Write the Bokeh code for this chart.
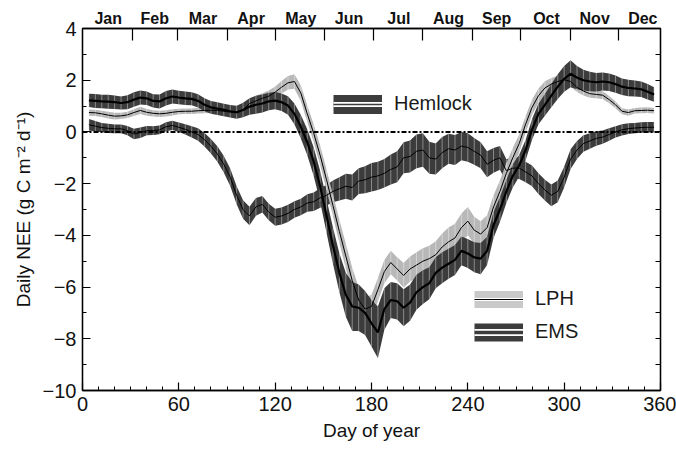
from bokeh.plotting import figure
from bokeh.models import Range1d, LinearAxis, FixedTicker, Span, Legend, LegendItem, ColumnDataSource
from bokeh.embed import file_html
from bokeh.resources import INLINE

# ---------------- data ----------------
DAY = list(range(4, 357, 4))  # 89 sample days

EMS_MEAN = [1.22, 1.20, 1.18, 1.17, 1.15, 1.12, 1.15, 1.25, 1.33, 1.30,
            1.20, 1.18, 1.30, 1.37, 1.33, 1.30, 1.28, 1.20, 1.05, 0.95,
            0.90, 0.85, 0.80, 0.76, 0.85, 0.98, 1.05, 1.10, 1.18, 1.21,
            1.15, 1.02, 0.70, 0.20, -0.40, -1.15, -2.10, -3.25, -4.40, -5.45,
            -6.30, -6.75, -6.80, -7.00, -7.40, -7.75, -6.85, -6.50, -6.55, -6.80,
            -6.60, -6.20, -6.00, -5.85, -5.45, -5.25, -5.10, -4.95, -4.60, -4.70,
            -4.85, -4.90, -4.60, -3.60, -3.00, -2.30, -1.70, -1.30, -0.70, 0.10,
            0.70, 1.05, 1.40, 1.75, 2.05, 2.25, 2.10, 2.00, 1.95, 1.92,
            1.95, 1.92, 1.85, 1.75, 1.70, 1.68, 1.65, 1.55, 1.45]
EMS_ERR = [0.26, 0.27, 0.26, 0.27, 0.26, 0.25, 0.27, 0.28, 0.27, 0.26,
           0.26, 0.27, 0.28, 0.27, 0.26, 0.26, 0.25, 0.26, 0.25, 0.25,
           0.25, 0.24, 0.24, 0.25, 0.28, 0.32, 0.35, 0.35, 0.34, 0.33,
           0.34, 0.36, 0.40, 0.45, 0.50, 0.55, 0.60, 0.65, 0.70, 0.75,
           0.85, 0.95, 0.90, 0.85, 0.90, 1.00, 0.80, 0.70, 0.70, 0.72,
           0.70, 0.68, 0.65, 0.62, 0.60, 0.60, 0.58, 0.58, 0.56, 0.56,
           0.58, 0.60, 0.55, 0.50, 0.48, 0.45, 0.45, 0.42, 0.40, 0.40,
           0.40, 0.42, 0.45, 0.48, 0.50, 0.52, 0.45, 0.40, 0.38, 0.36,
           0.35, 0.34, 0.33, 0.32, 0.32, 0.31, 0.30, 0.30, 0.28]

LPH_MEAN = [0.75, 0.74, 0.70, 0.65, 0.61, 0.62, 0.66, 0.75, 0.83, 0.76,
            0.72, 0.70, 0.72, 0.76, 0.79, 0.80, 0.80, 0.82, 0.83, 0.84,
            0.83, 0.80, 0.77, 0.74, 0.85, 1.10, 1.20, 1.30, 1.38, 1.54,
            1.73, 1.90, 1.95, 1.50, 0.70, -0.05, -0.90, -1.85, -2.85, -3.85,
            -4.80, -5.75, -6.50, -6.85, -6.75, -6.10, -5.40, -5.05, -5.30, -5.55,
            -5.30, -5.15, -5.00, -4.90, -4.75, -4.45, -4.25, -4.10, -3.70, -3.45,
            -3.80, -3.95, -3.70, -2.90, -2.30, -1.60, -1.00, -0.45, 0.30, 0.95,
            1.40, 1.70, 1.85, 1.95, 2.02, 1.95, 1.72, 1.58, 1.48, 1.45,
            1.42, 1.25, 1.05, 0.80, 0.75, 0.82, 0.83, 0.84, 0.82]
LPH_ERR = [0.12, 0.12, 0.12, 0.13, 0.13, 0.12, 0.12, 0.13, 0.14, 0.13,
           0.12, 0.12, 0.12, 0.12, 0.11, 0.11, 0.11, 0.11, 0.11, 0.11,
           0.11, 0.11, 0.11, 0.11, 0.15, 0.18, 0.20, 0.20, 0.22, 0.22,
           0.24, 0.26, 0.28, 0.30, 0.32, 0.35, 0.38, 0.40, 0.42, 0.45,
           0.48, 0.50, 0.50, 0.45, 0.45, 0.45, 0.45, 0.45, 0.45, 0.48,
           0.48, 0.50, 0.50, 0.50, 0.52, 0.52, 0.55, 0.55, 0.55, 0.55,
           0.52, 0.50, 0.48, 0.45, 0.42, 0.40, 0.38, 0.35, 0.32, 0.30,
           0.28, 0.26, 0.24, 0.22, 0.20, 0.20, 0.18, 0.17, 0.16, 0.15,
           0.15, 0.14, 0.13, 0.12, 0.12, 0.11, 0.11, 0.11, 0.11]

HEM_MEAN = [0.28, 0.22, 0.17, 0.14, 0.12, 0.12, 0.05, -0.08, -0.03, 0.05,
            0.05, 0.08, 0.20, 0.25, 0.18, 0.10, 0.00, -0.10, -0.30, -0.55,
            -0.85, -1.25, -1.75, -2.45, -3.00, -3.25, -2.90, -2.80, -3.10, -3.30,
            -3.25, -3.15, -3.00, -2.90, -2.75, -2.70, -2.55, -2.45, -2.30, -2.20,
            -2.10, -2.15, -1.90, -1.85, -1.75, -1.70, -1.60, -1.45, -1.35, -1.00,
            -0.95, -0.75, -0.70, -1.00, -1.05, -0.80, -0.65, -0.70, -0.55, -0.60,
            -0.75, -0.90, -1.25, -1.10, -1.00, -1.50, -1.40, -1.40, -1.55, -1.70,
            -2.00, -2.25, -2.45, -2.30, -1.75, -1.05, -0.70, -0.45, -0.35, -0.25,
            -0.20, -0.10, 0.00, 0.08, 0.13, 0.15, 0.17, 0.18, 0.18]
HEM_ERR = [0.22, 0.20, 0.18, 0.18, 0.17, 0.17, 0.18, 0.20, 0.20, 0.18,
           0.17, 0.17, 0.17, 0.18, 0.18, 0.20, 0.22, 0.24, 0.26, 0.28,
           0.30, 0.32, 0.34, 0.35, 0.36, 0.36, 0.34, 0.32, 0.32, 0.33,
           0.33, 0.33, 0.32, 0.32, 0.34, 0.36, 0.38, 0.40, 0.42, 0.45,
           0.48, 0.50, 0.50, 0.52, 0.55, 0.55, 0.55, 0.58, 0.60, 0.60,
           0.62, 0.65, 0.65, 0.62, 0.60, 0.60, 0.58, 0.58, 0.55, 0.55,
           0.52, 0.50, 0.50, 0.48, 0.46, 0.44, 0.42, 0.42, 0.40, 0.40,
           0.40, 0.40, 0.42, 0.42, 0.40, 0.38, 0.35, 0.32, 0.30, 0.28,
           0.26, 0.24, 0.22, 0.22, 0.21, 0.20, 0.20, 0.20, 0.20]

MONTHS = ["Jan", "Feb", "Mar", "Apr", "May", "Jun", "Jul", "Aug", "Sep", "Oct", "Nov", "Dec"]
MONTH_MID = [16, 45, 75, 105, 136, 166, 197, 228, 258, 289, 319, 349]
MONTH_EDGE = [31, 59, 90, 120, 151, 181, 212, 243, 273, 304, 334]
X_TICKS = [0, 60, 120, 180, 240, 300, 360]
Y_TICKS = [-10, -8, -6, -4, -2, 0, 2, 4]

# ---------------- styling ----------------
FONT = "Liberation Sans"
DARK = "#3c3c3c"
LIGHT = "#b8b8b8"

p = figure(width=676, height=452, x_range=Range1d(0, 360), y_range=Range1d(-10, 4),
           output_backend="svg", toolbar_location=None,
           min_border_left=82, min_border_right=16, min_border_top=28, min_border_bottom=62)
p.xgrid.visible = False
p.ygrid.visible = False
p.outline_line_color = "black"
p.outline_line_width = 1.3
p.background_fill_color = "white"
p.border_fill_color = "white"


def band(mean, err, color):
    lo = [m - e for m, e in zip(mean, err)]
    hi = [m + e for m, e in zip(mean, err)]
    src = ColumnDataSource(dict(x=DAY, lo=lo, hi=hi))
    p.varea(x="x", y1="lo", y2="hi", source=src, fill_color=color)
    p.segment(x0="x", y0="lo", x1="x", y1="hi", source=src,
              line_color="white", line_width=0.8, line_alpha=0.5)


band(HEM_MEAN, HEM_ERR, DARK)
band(LPH_MEAN, LPH_ERR, LIGHT)
band(EMS_MEAN, EMS_ERR, DARK)

p.line(DAY, HEM_MEAN, line_color="black", line_width=1.0)
p.line(DAY, LPH_MEAN, line_color="black", line_width=1.0)
p.line(DAY, EMS_MEAN, line_color="black", line_width=2.2)

p.add_layout(Span(location=0, dimension="width", line_color="black",
                  line_width=2, line_dash="5 2 2 2"))

# ---------------- axes ----------------
xb = p.below[0]
xb.ticker = FixedTicker(ticks=X_TICKS, minor_ticks=list(range(0, 361, 10)))
xb.axis_label = "Day of year"
yl = p.left[0]
yl.ticker = FixedTicker(ticks=Y_TICKS, minor_ticks=list(range(-10, 5)))
yl.axis_label = "Daily NEE (g C m\u207b\u00b2 d\u207b\u00b9)"
yl.major_label_overrides = {t: (str(t).replace("-", "\u2212")) for t in Y_TICKS}

for ax in (xb, yl):
    ax.axis_line_color = "black"
    ax.axis_line_width = 1.3
    ax.major_tick_in = 8
    ax.major_tick_out = 0
    ax.minor_tick_in = 4
    ax.minor_tick_out = 0
    ax.major_tick_line_width = 1.2
    ax.minor_tick_line_width = 1.0
    ax.major_label_text_font = FONT
    ax.major_label_text_font_size = "20px"
    ax.major_label_text_color = "#111111"
    ax.axis_label_text_font = FONT
    ax.axis_label_text_font_size = "19px"
    ax.axis_label_text_font_style = "normal"
    ax.axis_label_text_color = "#111111"
    ax.major_label_standoff = 6
    ax.axis_label_standoff = 6

top = LinearAxis(ticker=FixedTicker(ticks=MONTH_MID, minor_ticks=MONTH_EDGE),
                 major_label_overrides={m: n for m, n in zip(MONTH_MID, MONTHS)})
top.axis_line_color = "black"
top.axis_line_width = 1.3
top.major_tick_line_color = None
top.major_tick_in = 0
top.major_tick_out = 0
top.minor_tick_in = 12
top.minor_tick_out = 0
top.minor_tick_line_width = 1.2
top.major_label_text_font = FONT
top.major_label_text_font_size = "16px"
top.major_label_text_font_style = "bold"
top.major_label_text_color = "#111111"
top.major_label_standoff = 2
top.axis_label_standoff = 0
p.add_layout(top, "above")

right = LinearAxis(ticker=FixedTicker(ticks=[], minor_ticks=list(range(-10, 5))))
right.axis_line_color = "black"
right.axis_line_width = 1.3
right.major_tick_in = 0
right.major_tick_out = 0
right.minor_tick_in = 5
right.minor_tick_out = 0
right.minor_tick_line_width = 1.0
right.major_label_standoff = 0
right.axis_label_standoff = 0
p.add_layout(right, "right")

# ---------------- legends (proxy glyphs kept outside the visible range) ----------------
PX = [-50, -40]
PY = [-50, -50]
h1 = p.line(x=PX, y=PY, line_color=DARK, line_width=19)
h2 = p.line(x=PX, y=PY, line_color="white", line_width=5)
h3 = p.line(x=PX, y=PY, line_color=DARK, line_width=1.7)
l1 = p.line(x=PX, y=PY, line_color="#c9c9c9", line_width=17)
l2 = p.line(x=PX, y=PY, line_color="white", line_width=3)
l3 = p.line(x=PX, y=PY, line_color="black", line_width=1.2)
e1 = p.line(x=PX, y=PY, line_color=DARK, line_width=18)
e2 = p.line(x=PX, y=PY, line_color="white", line_width=7)
e3 = p.line(x=PX, y=PY, line_color=DARK, line_width=3.3)


def make_legend(items, loc, spacing):
    lg = Legend(items=items, location=loc, padding=0, spacing=spacing,
                glyph_width=49, glyph_height=20, label_height=20, label_standoff=12,
                label_text_font=FONT, label_text_font_size="20px", label_text_color="#1a1a1a",
                background_fill_alpha=0, border_line_alpha=0, margin=0)
    p.add_layout(lg)


make_legend([LegendItem(label="Hemlock", renderers=[h1, h2, h3])], (251, 275), 0)
make_legend([LegendItem(label="LPH", renderers=[l1, l2, l3]),
             LegendItem(label="EMS", renderers=[e1, e2, e3])], (392, 47), 10)

open("out.html", "w").write(file_html(p, INLINE))
